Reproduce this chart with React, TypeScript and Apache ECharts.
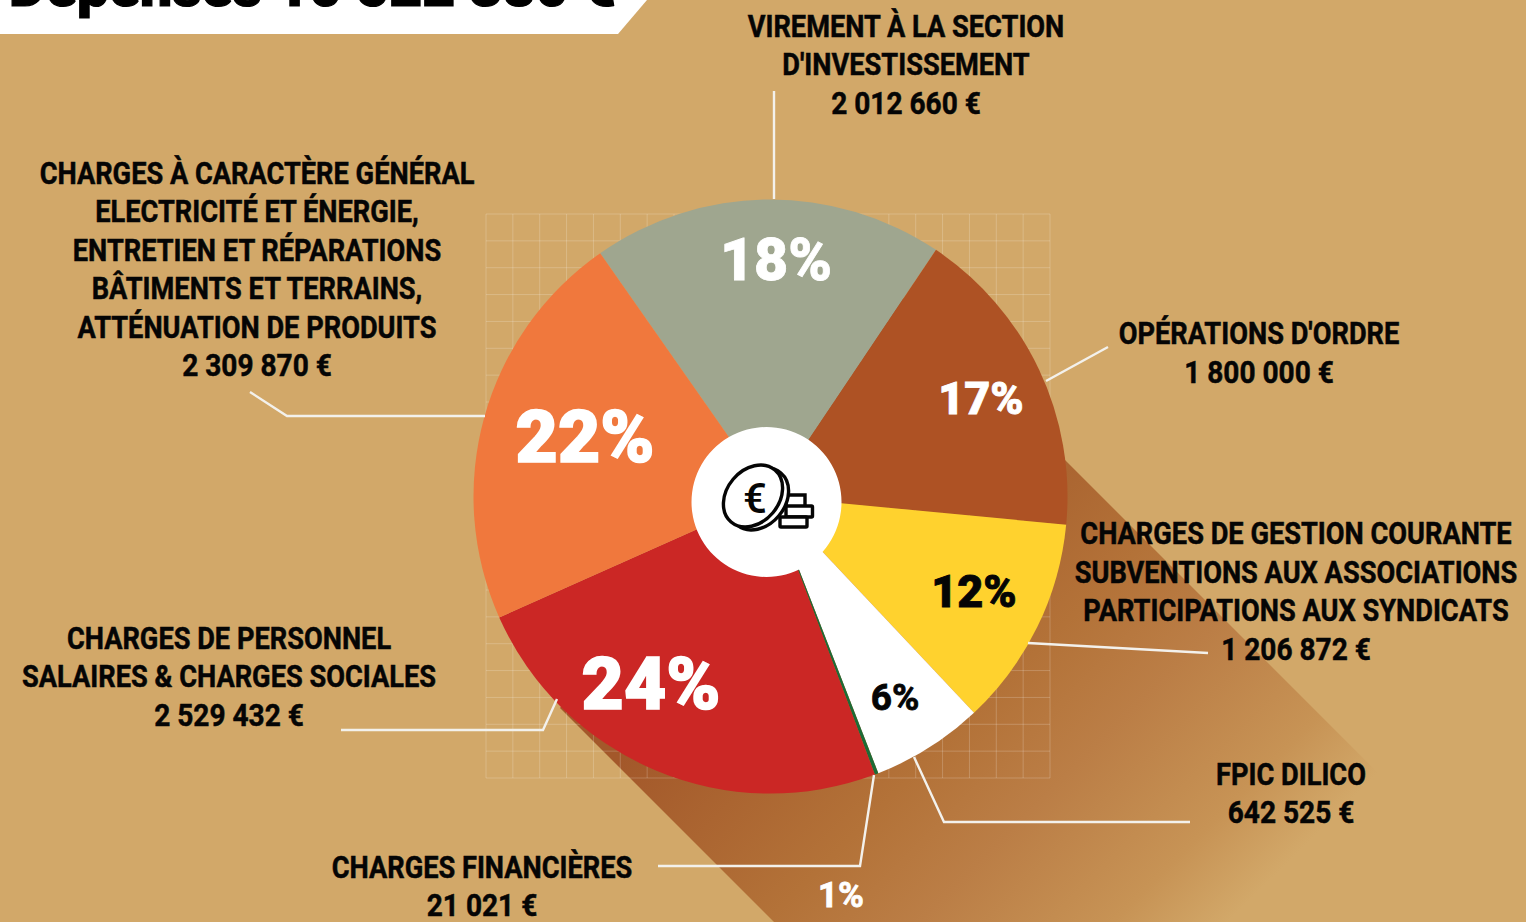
import React, { useEffect, useRef } from "react";
import * as echarts from "echarts";

const categories = [
  "Virement à la section d'investissement",
  "Opérations d'ordre",
  "Charges de gestion courante",
  "FPIC DILICO",
  "Charges financières",
  "Charges de personnel",
  "Charges à caractère général",
];
const values = [2012660, 1800000, 1206872, 642525, 21021, 2529432, 2309870];
const pctLabels = ["18%", "17%", "12%", "6%", "1%", "24%", "22%"];
const sliceColors = ["#9FA68F", "#AE5224", "#FFD22E", "#FFFFFF", "#1D6B36", "#CB2725", "#F0783D"];
const pctColors = ["#fff", "#fff", "#050505", "#050505", "#fff", "#fff", "#fff"];
const pctSizes = [59, 45, 45, 37, 35, 73, 73];
const pctX = [776, 981, 974, 895, 841, 651, 585];
const pctY = [259.5, 398, 591, 697, 895, 684, 437];

const calloutTexts = [
  ["VIREMENT À LA SECTION", "D'INVESTISSEMENT", "2 012 660 €"],
  ["OPÉRATIONS D'ORDRE", "1 800 000 €"],
  ["CHARGES DE GESTION COURANTE", "SUBVENTIONS AUX ASSOCIATIONS", "PARTICIPATIONS AUX SYNDICATS", "1 206 872 €"],
  ["FPIC DILICO", "642 525 €"],
  ["CHARGES FINANCIÈRES", "21 021 €"],
  ["CHARGES DE PERSONNEL", "SALAIRES & CHARGES SOCIALES", "2 529 432 €"],
  ["CHARGES À CARACTÈRE GÉNÉRAL", "ELECTRICITÉ ET ÉNERGIE,", "ENTRETIEN ET RÉPARATIONS", "BÂTIMENTS ET TERRAINS,", "ATTÉNUATION DE PRODUITS", "2 309 870 €"],
];
const calloutX = [906, 1259, 1296, 1291, 482, 229, 257];
const calloutY = [64.5, 353, 591.5, 793.5, 886.3, 676.5, 269.5];
const leaderLines = [
  [[774, 91], [774, 199]],
  [[1108, 347], [1046, 381]],
  [[1028, 643], [1208, 653]],
  [[914, 757], [944, 822], [1190, 822]],
  [[658, 866], [860, 866], [874, 775]],
  [[341, 730], [543, 730], [557, 699]],
  [[250, 392], [287, 416], [485, 416]],
];
const titleText = "Dépenses 10 522 380 €";
const BG = "#D2A869";

function buildGraphics() {
  const els: any[] = [];
  // long shadow
  els.push({
    type: "polygon",
    z: 0,
    shape: { points: [[900, 295], [2000, 1395], [1300, 1448], [560, 708]] },
    style: {
      fill: {
        type: "linear", global: true, x: 690, y: 690, x2: 1075, y2: 1075,
        colorStops: [
          { offset: 0, color: "#A3582A" },
          { offset: 0.4, color: "#B37238" },
          { offset: 0.6, color: "#BB7E46" },
          { offset: 0.85, color: "#C79355" },
          { offset: 1, color: BG },
        ],
      },
    },
  });
  // grid
  const gx0 = 486, gy0 = 214, cell = 564 / 21;
  for (let i = 0; i <= 21; i++) {
    const p = i * cell;
    els.push({ type: "line", z: 1, shape: { x1: gx0 + p, y1: gy0, x2: gx0 + p, y2: gy0 + 564 }, style: { stroke: "rgba(255,255,255,0.2)", lineWidth: 1 } });
    els.push({ type: "line", z: 1, shape: { x1: gx0, y1: gy0 + p, x2: gx0 + 564, y2: gy0 + p }, style: { stroke: "rgba(255,255,255,0.2)", lineWidth: 1 } });
  }
  // banner
  els.push({ type: "polygon", z: 5, shape: { points: [[0, 0], [647, 0], [618, 34], [0, 34]] }, style: { fill: "#fff" } });
  els.push({
    type: "text", z: 6, x: 9, y: -14,
    style: { text: titleText, fill: "#000", stroke: "#000", lineWidth: 1.2, font: "900 57px Roboto", textAlign: "left", textVerticalAlign: "middle" },
  });
  // hub
  els.push({ type: "circle", z: 5, shape: { cx: 766.5, cy: 502, r: 75 }, style: { fill: "#fff" } });
  const iconStroke = { stroke: "#050505", lineWidth: 3.4, fill: "#fff" };
  els.push({ type: "rect", z: 6, shape: { x: 786, y: 495, width: 19, height: 12 }, style: iconStroke });
  els.push({ type: "rect", z: 6, shape: { x: 786, y: 506, width: 26.5, height: 11, r: 1 }, style: iconStroke });
  els.push({ type: "rect", z: 6, shape: { x: 780, y: 517, width: 27, height: 10, r: 1 }, style: iconStroke });
  els.push({ type: "ellipse", z: 7, x: 759, y: 499, rotation: -0.7, shape: { cx: 0, cy: 0, rx: 26, ry: 34 }, style: iconStroke });
  els.push({ type: "ellipse", z: 8, x: 753, y: 496, rotation: -0.7, shape: { cx: 0, cy: 0, rx: 26, ry: 34 }, style: iconStroke });
  els.push({
    type: "text", z: 9, x: 755, y: 498,
    style: { text: "€", fill: "#050505", font: "500 42px Roboto", textAlign: "center", textVerticalAlign: "middle" },
  });
  // leader lines
  leaderLines.forEach((pts) => {
    els.push({ type: "polyline", z: 6, shape: { points: pts }, style: { stroke: "#F3F1EC", lineWidth: 2.4, fill: "none" } });
  });
  // callouts
  calloutTexts.forEach((lines, i) => {
    lines.forEach((t, j) => {
      const amountLine = /^\d/.test(t);
      els.push({
        type: "text", z: 7, x: calloutX[i], y: calloutY[i] + (j - (lines.length - 1) / 2) * 38.6,
        scaleX: amountLine ? 0.905 : 0.878,
        style: {
          text: t, fill: "#050505", stroke: "#050505", lineWidth: 0.5, font: "700 31px Roboto", lineHeight: 30,
          textAlign: "center", textVerticalAlign: "middle",
        },
      });
    });
  });
  return els;
}

export default function App() {
  const ref = useRef<HTMLDivElement>(null);
  useEffect(() => {
    document.body.style.margin = "0";
    const chart = echarts.init(ref.current!, null, { renderer: "svg" });
    chart.setOption({
      animation: false,
      backgroundColor: BG,
      graphic: { elements: buildGraphics() },
      series: [
        {
          type: "pie",
          z: 2,
          center: [770.5, 496.5],
          radius: [0, 297],
          startAngle: 125,
          avoidLabelOverlap: false,
          emphasis: { disabled: true },
          labelLine: { show: false },
          label: { show: true, position: "inside" },
          labelLayout: (p: any) => ({ x: pctX[p.dataIndex], y: pctY[p.dataIndex], align: "center", verticalAlign: "middle" }),
          data: categories.map((name, i) => ({
            name,
            value: values[i],
            itemStyle: { color: sliceColors[i] },
            label: {
              formatter: pctLabels[i],
              color: pctColors[i],
              fontFamily: "Roboto",
              fontWeight: pctSizes[i] > 44 ? 900 : 700,
              fontSize: pctSizes[i],
              textBorderColor: pctColors[i],
              textBorderWidth: pctSizes[i] > 65 ? 1.6 : 0.8,
            },
          })),
        },
      ],
    });
    return () => chart.dispose();
  }, []);
  return <div ref={ref} style={{ position: "absolute", left: 0, top: 0, width: 1526, height: 922, overflow: "hidden" }} />;
}
